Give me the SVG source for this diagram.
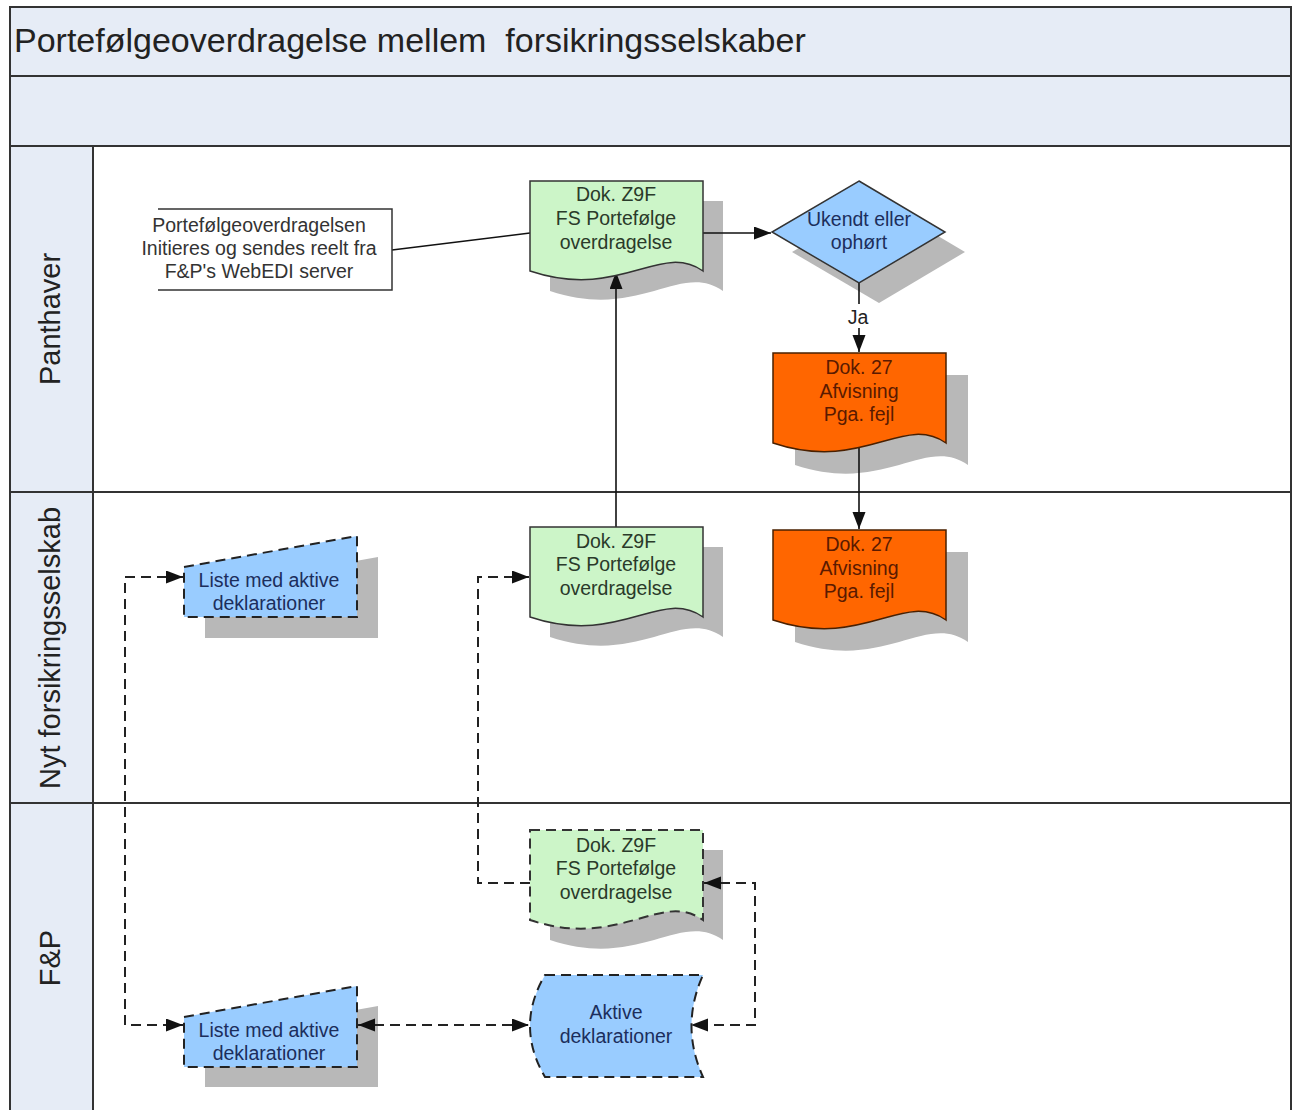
<svg xmlns="http://www.w3.org/2000/svg" xmlns:xlink="http://www.w3.org/1999/xlink" width="1299" height="1110" viewBox="0 0 1299 1110">
<style>
text{font-family:"Liberation Sans",Arial,sans-serif;}
.band{fill:#e6ecf6;stroke:#333;stroke-width:2;}
.lane{fill:#ffffff;stroke:#333;stroke-width:2;}
.title{font-size:34px;fill:#222;white-space:pre;}
.lanelbl{font-size:29px;fill:#222;text-anchor:middle;}
.t{font-size:19.5px;text-anchor:middle;}
.tg{fill:#2a3a2a;}
.to{fill:#5a1a00;}
.tb{fill:#1c2e5c;}
.ta{font-size:19.5px;fill:#333;text-anchor:middle;}
.shadow{fill:#b8b8b8;stroke:none;}
.green{fill:#ccf5c8;stroke:#333;stroke-width:1.5;}
.greend{fill:#ccf5c8;stroke:#333;stroke-width:2;stroke-dasharray:10 6;}
.orange{fill:#ff6600;stroke:#4a2000;stroke-width:1.5;}
.blue{fill:#99ccff;stroke:#333;stroke-width:1.5;}
.blued{fill:#99ccff;stroke:#222;stroke-width:2;stroke-dasharray:10 6;}
.conn{fill:none;stroke:#111;stroke-width:1.6;}
.dconn{fill:none;stroke:#222;stroke-width:2;stroke-dasharray:10 6;}
</style>
<defs>
<path id="doc" d="M0,0 H173 V90 C130,60 90,120 0,90 Z"/>
<path id="minput" d="M0,31 L173,0 L173,81 L0,81 Z"/>
<marker id="arr" markerUnits="userSpaceOnUse" markerWidth="20" markerHeight="14" refX="17" refY="6.5" orient="auto-start-reverse">
<path d="M0,0 L17,6.5 L0,13 Z" fill="#111"/>
</marker>
</defs>

<g id="frame">
<rect class="band" x="10" y="7" width="1281" height="69"/>
<rect class="band" x="10" y="76" width="1281" height="70"/>
<text class="title" x="14" y="52" xml:space="preserve">Portefølgeoverdragelse mellem  forsikringsselskaber</text>
</g>

<g id="lane-panthaver">
<rect class="lane" x="93" y="146" width="1198" height="346"/>
<rect class="band" x="10" y="146" width="83" height="346"/>
<text class="lanelbl" transform="translate(60,319) rotate(-90)">Panthaver</text>
</g>
<g id="lane-nyt">
<rect class="lane" x="93" y="492" width="1198" height="311"/>
<rect class="band" x="10" y="492" width="83" height="311"/>
<text class="lanelbl" transform="translate(60,648) rotate(-90)">Nyt forsikringsselskab</text>
</g>
<g id="lane-fp">
<rect class="lane" x="93" y="803" width="1198" height="320"/>
<rect class="band" x="10" y="803" width="83" height="320"/>
<text class="lanelbl" transform="translate(60,958) rotate(-90)">F&amp;P</text>
</g>

<g id="shadows">
<use xlink:href="#doc" class="shadow" x="550" y="201"/>
<polygon class="shadow" points="879,201 965,252 879,303 792,252"/>
<use xlink:href="#doc" class="shadow" x="795" y="375"/>
<use xlink:href="#doc" class="shadow" x="795" y="552"/>
<use xlink:href="#doc" class="shadow" x="550" y="547"/>
<use xlink:href="#minput" class="shadow" x="205" y="557"/>
<use xlink:href="#doc" class="shadow" x="550" y="850"/>
<use xlink:href="#minput" class="shadow" x="205" y="1006"/>
</g>

<g id="connectors">
<line class="conn" x1="392" y1="250" x2="530" y2="233"/>
<line class="conn" x1="703" y1="233" x2="771" y2="233" marker-end="url(#arr)"/>
<line class="conn" x1="859" y1="283" x2="859" y2="352" marker-end="url(#arr)"/>
<rect x="845" y="304" width="28" height="24" fill="#ffffff"/>
<text x="858" y="324" class="t" fill="#222">Ja</text>
<line class="conn" x1="859" y1="446" x2="859" y2="529" marker-end="url(#arr)"/>
<line class="conn" x1="616" y1="527" x2="616" y2="272" marker-end="url(#arr)"/>
<path class="dconn" d="M183,577 H125 V1025 H183" marker-start="url(#arr)" marker-end="url(#arr)"/>
<path class="dconn" d="M358,1025 H529" marker-start="url(#arr)" marker-end="url(#arr)"/>
<path class="dconn" d="M704,883 H755 V1025 H691" marker-start="url(#arr)" marker-end="url(#arr)"/>
<path class="dconn" d="M530,883 H478 V577 H529" marker-end="url(#arr)"/>
</g>

<g id="note">
<path d="M158,209 H392 V290 H158" fill="#ffffff" stroke="#333" stroke-width="1.5"/>
<text class="ta" x="259" y="232">Portefølgeoverdragelsen</text>
<text class="ta" x="259" y="255">Initieres og sendes reelt fra</text>
<text class="ta" x="259" y="278">F&amp;P's WebEDI server</text>
</g>

<g id="doc-z9f-panthaver">
<use xlink:href="#doc" class="green" x="530" y="181"/>
<text class="t tg" x="616" y="201">Dok. Z9F</text>
<text class="t tg" x="616" y="225">FS Portefølge</text>
<text class="t tg" x="616" y="249">overdragelse</text>
</g>

<g id="decision">
<polygon class="blue" points="859,181 945,232 859,283 772,232"/>
<text class="t tb" x="859" y="226">Ukendt eller</text>
<text class="t tb" x="859" y="249">ophørt</text>
</g>

<g id="doc-27-panthaver">
<use xlink:href="#doc" class="orange" x="773" y="353"/>
<text class="t to" x="859" y="374">Dok. 27</text>
<text class="t to" x="859" y="398">Afvisning</text>
<text class="t to" x="859" y="421">Pga. fejl</text>
</g>

<g id="doc-27-nyt">
<use xlink:href="#doc" class="orange" x="773" y="530"/>
<text class="t to" x="859" y="551">Dok. 27</text>
<text class="t to" x="859" y="575">Afvisning</text>
<text class="t to" x="859" y="598">Pga. fejl</text>
</g>

<g id="doc-z9f-nyt">
<use xlink:href="#doc" class="green" x="530" y="527"/>
<text class="t tg" x="616" y="548">Dok. Z9F</text>
<text class="t tg" x="616" y="571">FS Portefølge</text>
<text class="t tg" x="616" y="595">overdragelse</text>
</g>

<g id="liste-nyt">
<use xlink:href="#minput" class="blued" x="184" y="536"/>
<text class="t tb" x="269" y="587">Liste med aktive</text>
<text class="t tb" x="269" y="610">deklarationer</text>
</g>

<g id="doc-z9f-fp">
<use xlink:href="#doc" class="greend" x="530" y="830"/>
<text class="t tg" x="616" y="852">Dok. Z9F</text>
<text class="t tg" x="616" y="875">FS Portefølge</text>
<text class="t tg" x="616" y="899">overdragelse</text>
</g>

<g id="liste-fp">
<use xlink:href="#minput" class="blued" x="184" y="986"/>
<text class="t tb" x="269" y="1037">Liste med aktive</text>
<text class="t tb" x="269" y="1060">deklarationer</text>
</g>

<g id="aktive">
<path class="blued" d="M545,975 H703 Q680,1026 703,1077 H545 Q515,1026 545,975 Z"/>
<text class="t tb" x="616" y="1019">Aktive</text>
<text class="t tb" x="616" y="1043">deklarationer</text>
</g>
</svg>
